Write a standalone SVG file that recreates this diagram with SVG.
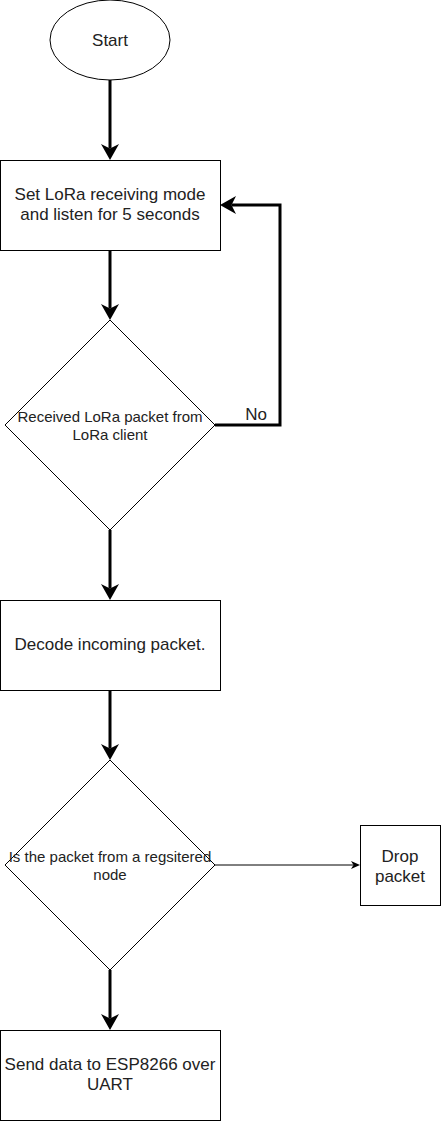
<svg xmlns="http://www.w3.org/2000/svg" width="441" height="1121" viewBox="0 0 441 1121">
<defs>
<style>
.shape{fill:#fff;stroke:#000;stroke-width:1}
.lbl{font-family:"Liberation Sans",Arial,sans-serif;font-size:17px;fill:#222;text-anchor:middle}
.dlbl{font-family:"Liberation Sans",Arial,sans-serif;font-size:15px;fill:#222;text-anchor:middle}
.thick{fill:none;stroke:#000;stroke-width:3;marker-end:url(#big)}
.thin{fill:none;stroke:#000;stroke-width:1;marker-end:url(#small)}
</style>
<marker id="big" markerUnits="userSpaceOnUse" viewBox="0 0 16 18" markerWidth="16" markerHeight="18" refX="4.5" refY="9" orient="auto">
<path d="M16,9 L0,0 L4.5,9 L0,18 Z" fill="#000"/>
</marker>
<marker id="small" markerUnits="userSpaceOnUse" viewBox="0 0 9 8" markerWidth="9" markerHeight="8" refX="2.5" refY="4" orient="auto">
<path d="M9,4 L0,0 L2.5,4 L0,8 Z" fill="#000"/>
</marker>
</defs>
<rect width="441" height="1121" fill="#fff"/>
<g id="connectors">
<path class="thick" d="M110,80 V148.5"/>
<path class="thick" d="M110,250 V308.5"/>
<path class="thick" d="M215,425 H280 V205 H231.5"/>
<path class="thick" d="M110,530 V588.5"/>
<path class="thick" d="M110,690 V748.5"/>
<path class="thin" d="M215,865 H353.5"/>
<path class="thick" d="M110,970 V1018.5"/>
<text class="lbl" x="256" y="420">No</text>
</g>
<g id="start">
<ellipse class="shape" cx="110" cy="40" rx="60" ry="40"/>
<text class="lbl" x="110" y="45.5">Start</text>
</g>
<g id="listen">
<rect class="shape" x="0.5" y="160.5" width="220" height="90"/>
<text class="lbl" x="110" y="200">Set LoRa receiving mode</text>
<text class="lbl" x="110" y="220">and listen for 5 seconds</text>
</g>
<g id="received">
<polygon class="shape" points="110,320 215,425 110,530 5,425"/>
<text class="dlbl" x="110" y="422">Received LoRa packet from</text>
<text class="dlbl" x="110" y="440">LoRa client</text>
</g>
<g id="decode">
<rect class="shape" x="0.5" y="600.5" width="220" height="90"/>
<text class="lbl" x="110" y="649.5">Decode incoming packet.</text>
</g>
<g id="registered">
<polygon class="shape" points="110,760 215,865 110,970 5,865"/>
<text class="dlbl" x="110" y="862">Is the packet from a regsitered</text>
<text class="dlbl" x="110" y="880">node</text>
</g>
<g id="drop">
<rect class="shape" x="360.5" y="825.5" width="80" height="80"/>
<text class="lbl" x="400" y="862">Drop</text>
<text class="lbl" x="400" y="882">packet</text>
</g>
<g id="send">
<rect class="shape" x="0.5" y="1030.5" width="220" height="90"/>
<text class="lbl" x="110" y="1070">Send data to ESP8266 over</text>
<text class="lbl" x="110" y="1090">UART</text>
</g>
</svg>
